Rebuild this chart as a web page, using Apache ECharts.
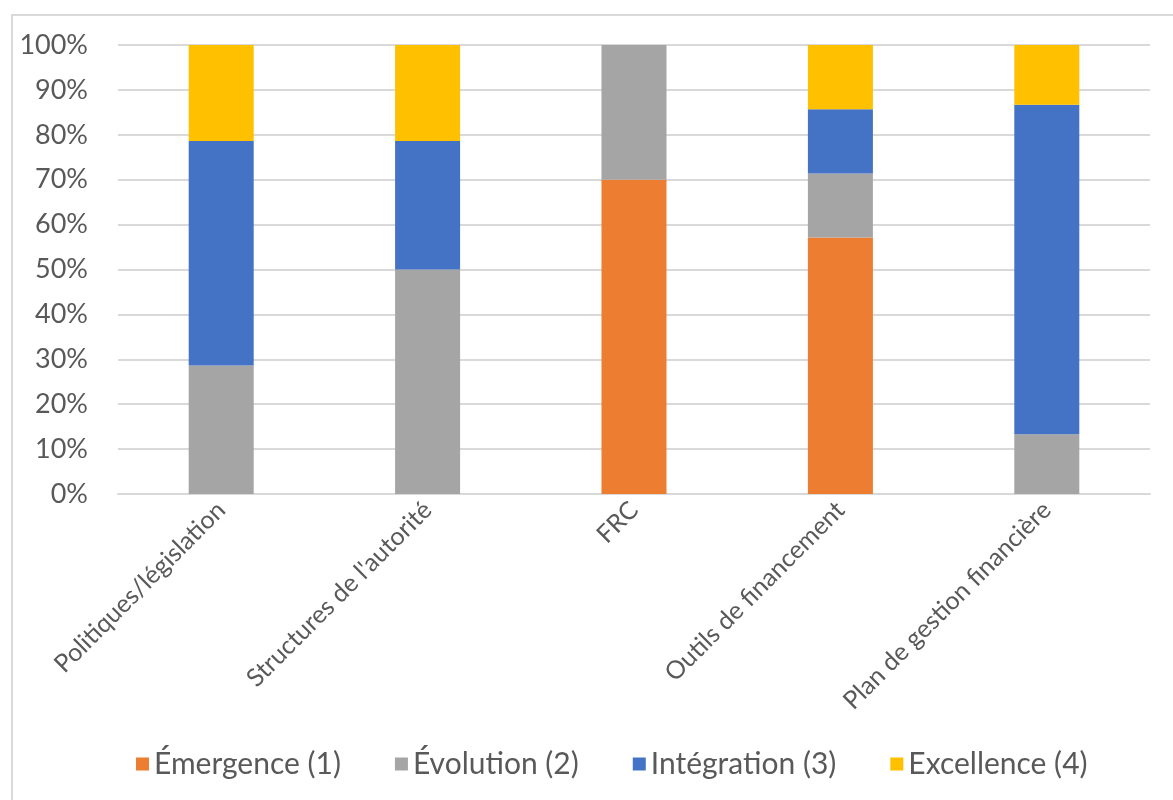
<!DOCTYPE html>
<html>
<head>
<meta charset="utf-8">
<script src="https://cdn.jsdelivr.net/npm/echarts@6/dist/echarts.min.js"></script>
<style>
html,body{margin:0;padding:0;background:#fff;}
#chart{width:1173px;height:800px;}
</style>
</head>
<body>
<div id="chart"></div>
<script>
// categories and shares (%) per level
var categories = ["Politiques/législation", "Structures de l'autorité", "FRC", "Outils de financement", "Plan de gestion financière"];
var emergence  = [0, 0, 70, 57.1, 0];
var evolution  = [28.6, 50, 30, 14.3, 13.3];
var integration = [50, 28.6, 0, 14.3, 73.4];
var excellence = [21.4, 21.4, 0, 14.3, 13.3];
var seriesNames = ["Émergence (1)", "Évolution (2)", "Intégration (3)", "Excellence (4)"];
var colors = ["#ED7D31", "#A5A5A5", "#4472C4", "#FFC000"];

var font = "Lato, 'Open Sans', sans-serif";
var chart = echarts.init(document.getElementById("chart"));

function bar(name, data, color){
    return {
        name: name,
        type: "bar",
        stack: "total",
        barWidth: "31.5%",
        data: data,
        itemStyle: {color: color}
    };
}

chart.setOption({
    animation: false,
    color: colors,
    graphic: [{
        type: "rect",
        shape: {x: 12, y: 15, width: 1200, height: 820},
        style: {fill: "none", stroke: "#d9d9d9", lineWidth: 2},
        silent: true
    }],
    grid: {left: 118, right: 23, top: 45, bottom: 306},
    legend: {
        bottom: 16,
        left: 131,
        itemWidth: 13,
        itemHeight: 13,
        itemGap: 54,
        icon: "rect",
        textStyle: {fontFamily: font, fontSize: 30, color: "#595959"},
        data: seriesNames
    },
    xAxis: {
        type: "category",
        data: categories,
        axisLine: {lineStyle: {color: "#d9d9d9", width: 2}},
        axisTick: {show: false},
        axisLabel: {
            rotate: 45,
            interval: 0,
            margin: 12,
            fontFamily: font,
            fontSize: 25,
            color: "#595959"
        }
    },
    yAxis: {
        type: "value",
        min: 0,
        max: 100,
        interval: 10,
        axisLine: {show: false},
        axisTick: {show: false},
        splitLine: {lineStyle: {color: "#d9d9d9", width: 2}},
        axisLabel: {
            formatter: "{value}%",
            margin: 30,
            fontFamily: font,
            fontSize: 27,
            color: "#595959"
        }
    },
    series: [
        bar(seriesNames[0], emergence, colors[0]),
        bar(seriesNames[1], evolution, colors[1]),
        bar(seriesNames[2], integration, colors[2]),
        bar(seriesNames[3], excellence, colors[3])
    ]
});
</script>
</body>
</html>
